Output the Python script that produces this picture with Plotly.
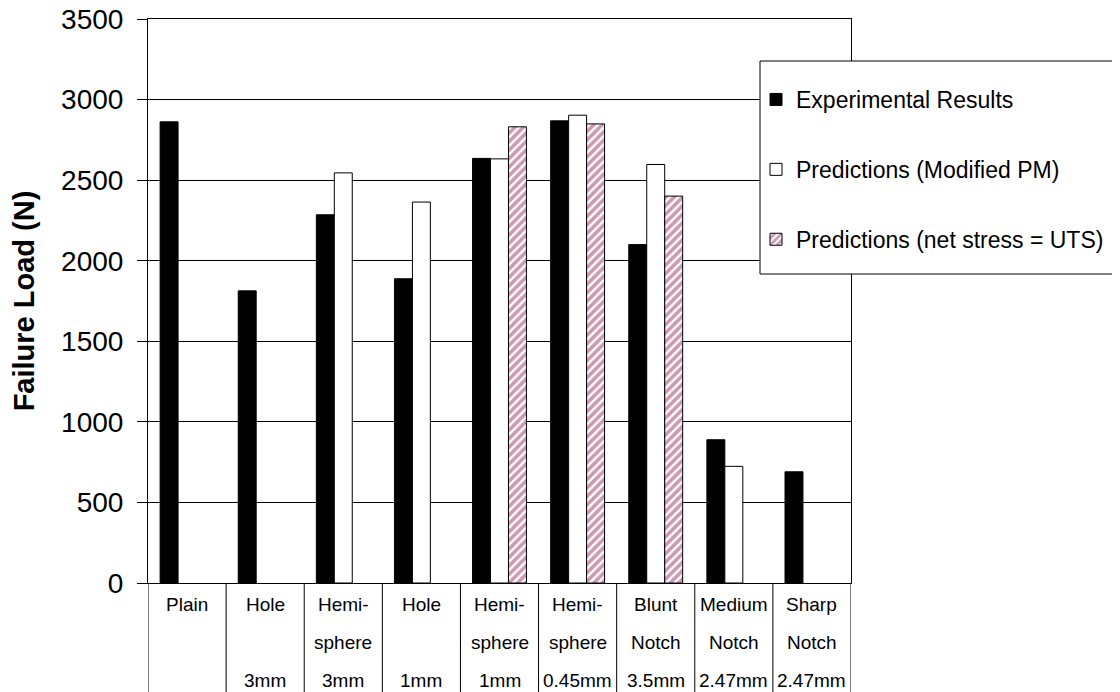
import plotly.graph_objects as go

categories = ["Plain", "Hole 3mm", "Hemisphere 3mm", "Hole 1mm", "Hemisphere 1mm",
              "Hemisphere 0.45mm", "Blunt Notch 3.5mm", "Medium Notch 2.47mm", "Sharp Notch 2.47mm"]
label_row1 = ["Plain", "Hole", "Hemi-", "Hole", "Hemi-", "Hemi-", "Blunt", "Medium", "Sharp"]
label_row2 = ["", "", "sphere", "", "sphere", "sphere", "Notch", "Notch", "Notch"]
label_row3 = ["", "3mm", "3mm", "1mm", "1mm", "0.45mm", "3.5mm", "2.47mm", "2.47mm"]

experimental = [2862, 1813, 2285, 1888, 2635, 2868, 2100, 889, 690]
pred_modified_pm = [None, None, 2545, 2364, 2632, 2903, 2597, 724, None]
pred_net_stress = [None, None, None, None, 2831, 2849, 2401, None, None]

FONT = "Arial, Liberation Sans, sans-serif"
OFF = 8  # page body margin
W, H = 1112, 684
L, T = 148 - OFF, 19 - OFF
PLOT_R, PLOT_B = 851 - OFF, 583 - OFF
R, B = W - PLOT_R, H - PLOT_B
PW, PH = W - L - R, H - T - B

def px_x(p):
    return (p - OFF - L) / PW

def px_y(p):
    return (H - B - (p - OFF)) / PH

fig = go.Figure()
fig.add_trace(go.Bar(x=categories, y=experimental, name="Experimental Results",
                     marker=dict(color="black", line=dict(color="black", width=1)),
                     legendgroup="a"))
fig.add_trace(go.Bar(x=categories, y=pred_modified_pm, name="Predictions (Modified PM)",
                     marker=dict(color="white", line=dict(color="black", width=1)),
                     legendgroup="b"))
fig.add_trace(go.Bar(x=categories, y=pred_net_stress, name="Predictions (net stress = UTS)",
                     marker=dict(color="white", line=dict(color="black", width=1),
                                 pattern=dict(shape="/", fgcolor="#993366", bgcolor="white",
                                              size=6, solidity=0.6)),
                     legendgroup="c"))

shapes = []
# legend box
shapes.append(dict(type="rect", xref="paper", yref="paper",
                   x0=px_x(760), x1=px_x(1119), y0=px_y(274), y1=px_y(61),
                   fillcolor="white", line=dict(color="black", width=1), layer="above"))
# category table dividers
for i in range(len(categories) + 1):
    shapes.append(dict(type="line", xref="x", yref="paper", x0=i - 0.5, x1=i - 0.5,
                       y0=0, y1=-B / PH, line=dict(color="black", width=1)))

annotations = []
for row, py in ((label_row1, 605), (label_row2, 642), (label_row3, 680)):
    for c, t in zip(categories, row):
        if t:
            annotations.append(dict(x=c, y=px_y(py), xref="x", yref="paper", text=t,
                                    showarrow=False, xanchor="center", yanchor="middle",
                                    font=dict(family=FONT, size=19, color="black")))

fig.update_layout(
    width=W, height=H,
    margin=dict(l=L, r=R, t=T, b=B, autoexpand=False),
    paper_bgcolor="white", plot_bgcolor="white",
    barmode="group", bargap=0.31, bargroupgap=0,
    font=dict(family=FONT, color="black"),
    showlegend=True,
    legend=dict(x=px_x(756), y=px_y(78), xanchor="left", yanchor="top",
                bgcolor="rgba(0,0,0,0)", borderwidth=0,
                font=dict(family=FONT, size=23, color="black"),
                traceorder="grouped", tracegroupgap=37),
    shapes=shapes,
    annotations=annotations,
    xaxis=dict(range=[-0.5, 8.5], showticklabels=False, ticks="", showgrid=False,
               showline=True, linecolor="black", linewidth=1, mirror=True, zeroline=False,
               automargin=False),
    yaxis=dict(range=[0, 3500], dtick=500, tick0=0, ticks="outside", ticklen=10,
               tickcolor="black", showline=True, linecolor="black", linewidth=1, mirror=True,
               showgrid=True, gridcolor="black", gridwidth=1, zeroline=False,
               automargin=False, ticklabelstandoff=8, ticklabeloverflow="allow",
               tickfont=dict(family=FONT, size=28, color="black"),
               title=dict(text="<b>Failure Load (N)</b>", standoff=24,
                          font=dict(family=FONT, size=29, color="black"))),
)

fig.write_html("out.html")
